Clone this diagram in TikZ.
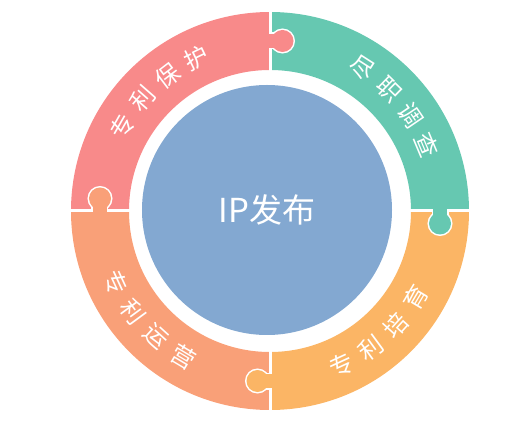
\documentclass[tikz,border=0pt]{standalone}
\usepackage{xcolor}
\usepackage{fontspec}
\newfontfamily\cjk{Noto Sans CJK SC}
\usepackage{tikz}
\usetikzlibrary{positioning}
\definecolor{pinkpiece}{RGB}{248,138,138}
\definecolor{tealpiece}{RGB}{102,200,177}
\definecolor{orangepiece}{RGB}{251,181,101}
\definecolor{salmonpiece}{RGB}{249,160,120}
\definecolor{corecolor}{RGB}{131,168,209}
\tikzstyle{seam} = [white, line width=3pt]

\begin{document}
\begin{tikzpicture}[x=1pt, y=1pt,
    lbl/.style={text=white, inner sep=0pt, font=\cjk\fontsize{24}{24}\selectfont},
    core/.style={circle, fill=corecolor, minimum size=250pt, inner sep=0pt, text=white, font=\cjk\fontsize{33}{33}\selectfont}
]
\useasboundingbox (-270,-216) rectangle (256,211);
% ring pieces
\foreach \a/\col in {90/pinkpiece, 0/tealpiece, -90/orangepiece, 180/salmonpiece}
    \fill[\col] (\a:141) arc[start angle=\a, end angle=\a+90, radius=141]
        -- (\a+90:199) arc[start angle=\a+90, end angle=\a, radius=199] -- cycle;
\foreach \s in {0,90,180,270}
    \draw[seam] (\s:139) -- (\s:201);
% puzzle knobs
\foreach \s/\col in {90/pinkpiece, 0/tealpiece, 270/orangepiece, 180/salmonpiece}{
    \begin{scope}[rotate=\s-90]
        \draw[seam] (12.5,170) circle (11);
        \draw[seam] (0,163) -- (6,163) (0,177) -- (6,177);
        \fill[\col] (12.5,170) circle (11);
        \fill[\col] (-2,163) rectangle (6,177);
    \end{scope}
}
% center
\node[core] (ip) at (-3,1) {IP发布};
% labels
\foreach \ch [count=\i, evaluate=\i as \ang using 133+28.75-11.5*\i] in {专,利,保,护}
    \node[lbl, rotate=\ang-90] (protect\i) at (\ang:170) {\ch};
\foreach \ch [count=\i, evaluate=\i as \ang using 40+28.75-11.5*\i] in {尽,职,调,查}
    \node[lbl, rotate=\ang-90] (check\i) at (\ang:170) {\ch};
\foreach \ch [count=\i, evaluate=\i as \ang using 312-28.75+11.5*\i] in {专,利,培,育}
    \node[lbl, rotate=\ang+90] (grow\i) at (\ang:170) {\ch};
\foreach \ch [count=\i, evaluate=\i as \ang using 222-28.75+11.5*\i] in {专,利,运,营}
    \node[lbl, rotate=\ang+90] (run\i) at (\ang:170) {\ch};
\end{tikzpicture}
\end{document}
